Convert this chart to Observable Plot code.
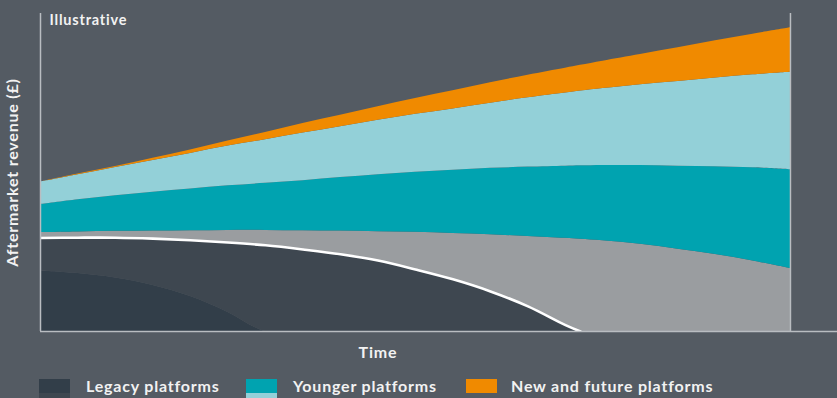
<!DOCTYPE html>
<html>
<head>
<meta charset="utf-8">
<script src="https://cdn.jsdelivr.net/npm/d3@7"></script>
<script src="https://cdn.jsdelivr.net/npm/@observablehq/plot@0.6"></script>
<style>
  html, body { margin: 0; padding: 0; background: #545b63; overflow: hidden; }
  body { width: 837px; height: 398px; font-family: Lato, "Open Sans", sans-serif; }
  #chart svg { display: block; }
  #legend { position: relative; width: 837px; height: 33px; }
  .sw { position: absolute; width: 31px; height: 14px; }
  .lt { position: absolute; color: #f2f2f2; font: 700 16px Lato, sans-serif; letter-spacing: 0.8px; white-space: nowrap; line-height: 16px; }
</style>
</head>
<body>
<div id="chart"></div>
<div id="legend"></div>
<script>
// Time grid (0 = start, 100 = end of illustrated period)
const time = [0, 5, 10, 15, 20, 25, 30, 35, 40, 45, 50, 55, 60, 65, 70, 72, 75, 80, 85, 90, 95, 100];
// Layer thicknesses (illustrative revenue units, stacked bottom to top)
const legacyOld    = [19.0, 18.2, 16.8, 14.5, 11.0, 6.0, 0, 0, 0, 0, 0, 0, 0, 0, 0, 0, 0, 0, 0, 0, 0, 0];
const legacyMain   = [10.4, 11.3, 12.7, 14.7, 17.7, 22.0, 27.1, 25.8, 24.3, 22.3, 19.5, 16.4, 12.6, 7.9, 2.0, 0, 0, 0, 0, 0, 0, 0];
const legacyGrey   = [1.7, 1.8, 2.0, 2.4, 3.0, 3.8, 4.7, 5.9, 7.3, 9.1, 11.7, 14.4, 17.8, 22.0, 27.3, 29.0, 28.5, 27.4, 25.9, 24.2, 22.2, 19.8];
const youngerMain  = [8.8, 10.1, 11.2, 12.2, 13.1, 14.0, 14.8, 15.7, 16.8, 17.9, 18.9, 19.9, 20.9, 21.8, 22.7, 23.1, 23.7, 24.8, 26.1, 27.6, 29.3, 31.1];
const youngerLight = [7.1, 7.9, 8.9, 10.0, 11.2, 12.5, 13.7, 15.0, 16.0, 17.1, 18.2, 19.3, 20.5, 21.8, 23.0, 23.5, 24.2, 25.4, 26.6, 27.9, 29.2, 30.6];
const newFuture    = [0, 0.2, 0.3, 0.7, 1.1, 1.6, 2.3, 3.0, 3.6, 4.3, 5.0, 5.7, 6.4, 7.1, 7.8, 8.1, 8.6, 9.5, 10.6, 11.7, 12.8, 14.0];

const seriesNames = ["legacyOld", "legacyMain", "legacyGrey", "youngerMain", "youngerLight", "newFuture"];
const seriesValues = [legacyOld, legacyMain, legacyGrey, youngerMain, youngerLight, newFuture];
const seriesColors = ["#323e49", "#3e4750", "#9a9da0", "#00a3b0", "#93d0d8", "#f08a00"];

const legendLabels = ["Legacy platforms", "Younger platforms", "New and future platforms"];

const rows = [];
seriesNames.forEach((name, i) => {
  time.forEach((t, j) => rows.push({ t, series: name, value: seriesValues[i][j] }));
});
const legacyLine = time.map((t, j) => ({ t, value: legacyOld[j] + legacyMain[j] })).filter(d => d.t <= 72);

const plot = Plot.plot({
  width: 837,
  height: 365,
  marginLeft: 40,
  marginRight: 0,
  marginTop: 13,
  marginBottom: 34,
  style: { background: "transparent", fontFamily: "Lato, sans-serif" },
  x: { domain: [0, 106.27], axis: null },
  y: { domain: [0, 100], axis: null },
  color: { domain: seriesNames, range: seriesColors },
  marks: [
    Plot.areaY(rows, { x: "t", y: "value", fill: "series", order: seriesNames, curve: "catmull-rom", clip: true }),
    Plot.line(legacyLine, { x: "t", y: "value", stroke: "#ffffff", strokeWidth: 2.6, curve: "catmull-rom", clip: true }),
    Plot.ruleX([0], { y1: 0, y2: 100, stroke: "#b9bdc1", strokeWidth: 1.5 }),
    Plot.ruleX([100], { y1: 0, y2: 100, stroke: "#b9bdc1", strokeWidth: 1.5 }),
    Plot.ruleY([0], { stroke: "#b9bdc1", strokeWidth: 1.5 }),
    Plot.text(["Illustrative"], { frameAnchor: "top-left", dx: 9, dy: 1, fill: "#f2f2f2", fontSize: 14.5, fontWeight: 700 }),
    Plot.text(["Aftermarket revenue (£)"], { frameAnchor: "left", dx: -28, rotate: -90, textAnchor: "middle", fill: "#f2f2f2", fontSize: 16, fontWeight: 700 }),
    Plot.text(["Time"], { x: 45, y: 0, dy: 21, textAnchor: "middle", fill: "#f2f2f2", fontSize: 16, fontWeight: 700 })
  ]
});
plot.querySelectorAll("text").forEach(t => t.style.letterSpacing = "0.8px");
document.getElementById("chart").appendChild(plot);

// Legend (below the SVG)
const legend = document.getElementById("legend");
const legendItems = [
  { label: legendLabels[0], top: "#323e49", bottom: "#3e4750", x: 39, tx: 86 },
  { label: legendLabels[1], top: "#00a3b0", bottom: "#93d0d8", x: 246, tx: 293 },
  { label: legendLabels[2], top: "#f08a00", bottom: null, x: 466, tx: 511 }
];
legendItems.forEach(it => {
  const s1 = document.createElement("div");
  s1.className = "sw"; s1.style.left = it.x + "px"; s1.style.top = "14px"; s1.style.background = it.top;
  legend.appendChild(s1);
  if (it.bottom) {
    const s2 = document.createElement("div");
    s2.className = "sw"; s2.style.left = it.x + "px"; s2.style.top = "28px"; s2.style.background = it.bottom;
    legend.appendChild(s2);
  }
  const t = document.createElement("div");
  t.className = "lt"; t.style.left = it.tx + "px"; t.style.top = "13px"; t.textContent = it.label;
  legend.appendChild(t);
});
</script>
</body>
</html>
